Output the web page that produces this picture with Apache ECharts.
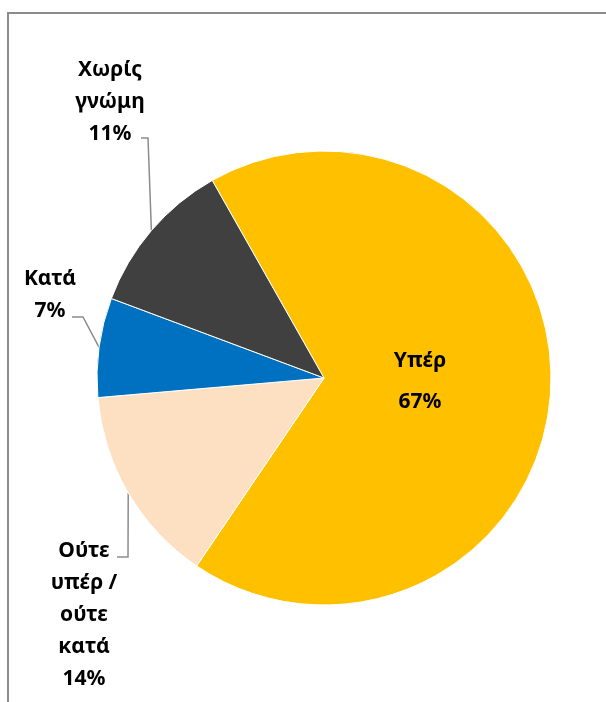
<!DOCTYPE html>
<html>
<head>
<meta charset="utf-8">
<script src="https://cdn.jsdelivr.net/npm/echarts@6/dist/echarts.min.js"></script>
<style>
html,body{margin:0;padding:0;background:#fff;}
#chart{width:606px;height:702px;}
</style>
</head>
<body>
<div id="chart"></div>
<script>
// data
var categories = ['Υπέρ', 'Ούτε\nυπέρ /\nούτε\nκατά', 'Κατά', 'Χωρίς\nγνώμη'];
var values = [67, 14, 7, 11];
var colors = ['#FFC000', '#FDE0C2', '#0070C0', '#404040'];

// label anchor + elbow of leader line, per slice (pixels)
var labelPos = [
	{x: 420, y: 382},
	{x: 84, y: 615, elbow: [128, 557], end: [117, 557]},
	{x: 50, y: 295, elbow: [83, 317], end: [72, 317]},
	{x: 110, y: 102, elbow: [148, 138], end: [141, 138]}
];

var myChart = echarts.init(document.getElementById('chart'));
var dats = [];
for (var i = 0; i < categories.length; i++) {
	var item = {
		name: categories[i],
		value: values[i],
		itemStyle: {color: colors[i]}
	};
	if (i == 0) {
		item.label = {position: 'inside', lineHeight: 41};
		item.labelLine = {show: false};
	}
	dats.push(item);
}
var option = {
	animation: false,
	graphic: [
		{type: 'polyline', shape: {points: [[8, 702], [8, 13], [606, 13]]},
			style: {stroke: '#8c8c8c', lineWidth: 2, fill: null}}
	],
	series: [
		{
			type: 'pie',
			center: [324, 378],
			radius: [0, 227],
			startAngle: 119.5,
			clockwise: true,
			avoidLabelOverlap: false,
			itemStyle: {borderColor: '#fff', borderWidth: 1},
			label: {
				show: true,
				position: 'outside',
				formatter: function (p) { return p.name + '\n' + p.value + '%'; },
				fontFamily: 'Noto Sans',
				fontWeight: 'bold',
				fontSize: 21,
				lineHeight: 32,
				color: '#000',
				align: 'center'
			},
			labelLine: {
				show: true,
				length: 10,
				length2: 10,
				lineStyle: {color: '#8c8c8c', width: 1.5}
			},
			labelLayout: function (params) {
				var lp = labelPos[params.dataIndex];
				var res = {x: lp.x, y: lp.y, align: 'center', verticalAlign: 'middle'};
				if (lp.elbow && params.labelLinePoints) {
					res.labelLinePoints = [params.labelLinePoints[0], lp.elbow, lp.end];
				}
				return res;
			},
			data: dats
		}
	]
};
myChart.setOption(option);
</script>
</body>
</html>
